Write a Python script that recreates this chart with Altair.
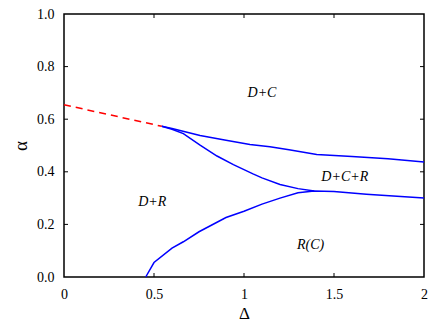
import altair as alt
import pandas as pd

# Boundary curves (Delta, alpha)
upper_x = [0.543, 0.6, 0.756, 0.9, 1.033, 1.144, 1.25, 1.404, 1.6, 1.8, 2.0]
upper_y = [0.573, 0.565, 0.538, 0.52, 0.504, 0.495, 0.484, 0.466, 0.458, 0.450, 0.437]

middle_x = [0.543, 0.6, 0.663, 0.756, 0.85, 0.941, 1.05, 1.1, 1.2, 1.3, 1.39]
middle_y = [0.573, 0.562, 0.545, 0.501, 0.46, 0.427, 0.392, 0.377, 0.352, 0.336, 0.327]

lower_x = [0.454, 0.5, 0.6, 0.663, 0.75, 0.8, 0.9, 1.0, 1.1, 1.2, 1.3, 1.39, 1.5, 1.68, 1.85, 2.0]
lower_y = [0.0, 0.055, 0.11, 0.134, 0.172, 0.19, 0.226, 0.25, 0.277, 0.30, 0.32, 0.327, 0.325, 0.315, 0.307, 0.300]

dashed_x = [0.0, 0.543]
dashed_y = [0.655, 0.573]

label_text = ["D+C", "D+C+R", "D+R", "R(C)"]
label_x = [1.1, 1.56, 0.49, 1.37]
label_y = [0.698, 0.38, 0.287, 0.123]

x_ticks = [0, 0.5, 1, 1.5, 2]
y_ticks = [0.0, 0.2, 0.4, 0.6, 0.8, 1.0]

W, H = 360, 263
TICK_PX = 4

rows = []
for name, xs, ys in [("upper", upper_x, upper_y), ("middle", middle_x, middle_y), ("lower", lower_x, lower_y)]:
    for i, (a, b) in enumerate(zip(xs, ys)):
        rows.append({"curve": name, "order": i, "d": a, "a": b})
solid = pd.DataFrame(rows)
dashed = pd.DataFrame({"d": dashed_x, "a": dashed_y, "order": list(range(len(dashed_x)))})
labels = pd.DataFrame({"t": label_text, "d": label_x, "a": label_y})

# inward mirror ticks, built from the tick values
dy = TICK_PX / H * (y_ticks[-1] - y_ticks[0])
dx = TICK_PX / W * (x_ticks[-1] - x_ticks[0])
xt_inner = x_ticks[1:-1]
yt_inner = y_ticks[1:-1]
xt = pd.DataFrame({
    "d": xt_inner * 2,
    "a": [y_ticks[0]] * len(xt_inner) + [y_ticks[-1]] * len(xt_inner),
    "a2": [y_ticks[0] + dy] * len(xt_inner) + [y_ticks[-1] - dy] * len(xt_inner),
})
yt = pd.DataFrame({
    "a": yt_inner * 2,
    "d": [x_ticks[0]] * len(yt_inner) + [x_ticks[-1]] * len(yt_inner),
    "d2": [x_ticks[0] + dx] * len(yt_inner) + [x_ticks[-1] - dx] * len(yt_inner),
})

FONT = "Liberation Serif, Times New Roman, serif"

xscale = alt.Scale(domain=[0, 2], nice=False, zero=False)
yscale = alt.Scale(domain=[0, 1], nice=False, zero=False)

xaxis = alt.Axis(values=x_ticks, format="~g", ticks=False, tickSize=0, domain=False, grid=False,
                 labelFont=FONT, labelFontSize=14, labelColor="black", labelPadding=10,
                 title="Δ", titleFont=FONT, titleFontSize=17, titleFontWeight="normal",
                 titleColor="black", titlePadding=4, labelFlush=False)
yaxis = alt.Axis(values=y_ticks, format=".1f", ticks=False, tickSize=0, domain=False, grid=False,
                 labelFont=FONT, labelFontSize=14, labelColor="black", labelPadding=10,
                 title="α", titleFont=FONT, titleFontSize=19, titleFontWeight="normal",
                 titleColor="black", titleX=-44, titleY=H / 2, titleAngle=270,
                 titleAlign="center", titleBaseline="middle", labelFlush=False)

lines = alt.Chart(solid).mark_line(color="#0000ff", strokeWidth=1.5).encode(
    x=alt.X("d:Q", scale=xscale, axis=xaxis),
    y=alt.Y("a:Q", scale=yscale, axis=yaxis),
    detail="curve:N", order="order:Q")

dash = alt.Chart(dashed).mark_line(color="#ff0000", strokeWidth=1.5, strokeDash=[7, 5]).encode(
    x=alt.X("d:Q", scale=xscale), y=alt.Y("a:Q", scale=yscale), order="order:Q")

text = alt.Chart(labels).mark_text(font=FONT, fontSize=14, fontStyle="italic", color="black").encode(
    x=alt.X("d:Q", scale=xscale), y=alt.Y("a:Q", scale=yscale), text="t:N")

xticks = alt.Chart(xt).mark_rule(color="black", strokeWidth=1).encode(
    x=alt.X("d:Q", scale=xscale), y=alt.Y("a:Q", scale=yscale), y2="a2:Q")
yticks = alt.Chart(yt).mark_rule(color="black", strokeWidth=1).encode(
    y=alt.Y("a:Q", scale=yscale), x=alt.X("d:Q", scale=xscale), x2="d2:Q")

chart = alt.layer(lines, dash, text, xticks, yticks).properties(
    width=W, height=H,
    autosize=alt.AutoSizeParams(type="none"),
    padding={"left": 56, "top": 6, "right": 4, "bottom": 46},
).configure(background="white").configure_view(stroke="black", strokeWidth=1.5)

chart.save("out.html", embed_options={"renderer": "svg", "actions": False})
